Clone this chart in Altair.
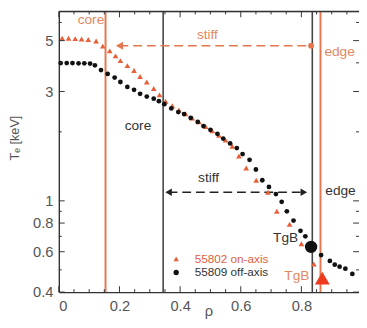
import altair as alt
import pandas as pd

W, H = 307, 287
FONT = "Liberation Sans"
ORANGE = "#e5764d"
ORANGE_TXT = "#e58862"
TRI = "#e8603a"
DARK = "#222222"
GREY = "#555555"

# ---- data ----
black_rho = [0.006, 0.026, 0.045, 0.065, 0.084, 0.103, 0.119, 0.139, 0.161, 0.184,
             0.203, 0.226, 0.248, 0.268, 0.290, 0.313, 0.330, 0.348, 0.371, 0.394,
             0.413, 0.435, 0.458, 0.477, 0.500, 0.523, 0.542, 0.565, 0.587, 0.606,
             0.629, 0.650, 0.671, 0.693, 0.716, 0.735, 0.752, 0.774, 0.797, 0.813,
             0.865, 0.894, 0.910, 0.926, 0.945, 0.968]
black_te = [3.99, 3.99, 3.99, 3.98, 3.98, 3.97, 3.90, 3.72, 3.58, 3.45,
            3.30, 3.14, 3.05, 2.93, 2.85, 2.79, 2.72, 2.64, 2.53, 2.44,
            2.39, 2.30, 2.21, 2.12, 2.04, 1.96, 1.87, 1.78, 1.70, 1.60,
            1.51, 1.37, 1.23, 1.15, 1.07, 0.99, 0.90, 0.82, 0.74, 0.70,
            0.58, 0.547, 0.527, 0.516, 0.506, 0.48]

orange_rho = [0.011, 0.032, 0.054, 0.075, 0.097, 0.123, 0.145, 0.168, 0.187, 0.203,
              0.226, 0.248, 0.268, 0.290, 0.313, 0.332, 0.352, 0.374, 0.396, 0.418,
              0.440, 0.462, 0.484, 0.506, 0.528, 0.550, 0.572, 0.594, 0.618, 0.651,
              0.690, 0.719, 0.761, 0.800, 0.841]
orange_te = [5.12, 5.12, 5.10, 5.08, 5.06, 4.98, 4.73, 4.51, 4.29, 4.09,
             3.89, 3.70, 3.49, 3.30, 3.09, 2.90, 2.72, 2.60, 2.49, 2.40,
             2.30, 2.21, 2.11, 2.02, 1.93, 1.84, 1.73, 1.57, 1.39, 1.23,
             1.09, 0.90, 0.79, 0.65, 0.53]

series_names = ["55802 on-axis", "55809 off-axis"]

orange_lines = [0.154, 0.863]
black_lines = [0.344, 0.836]

tgb_black = {"rho": [0.832], "te": [0.63]}
tgb_orange = {"rho": [0.869], "te": [0.46]}

orange_arrow = {"rho": [0.20], "rho2": [0.832], "te": [4.75]}
black_arrow = {"rho": [0.362], "rho2": [0.808], "te": [1.09]}

orange_text = ["core", "stiff", "edge", "TgB"]
orange_text_rho = [0.106, 0.49, 0.926, 0.785]
orange_text_te = [6.13, 5.30, 4.44, 0.47]
black_text = ["core", "stiff", "edge", "TgB"]
black_text_rho = [0.261, 0.494, 0.929, 0.748]
black_text_te = [2.12, 1.26, 1.10, 0.686]

x_major = [0, 0.2, 0.4, 0.6, 0.8]
x_minor = [0.05, 0.1, 0.15, 0.25, 0.3, 0.35, 0.45, 0.5, 0.55, 0.65, 0.7, 0.75, 0.85, 0.9, 0.95]
y_major = [0.4, 0.6, 0.8, 1, 3, 5]
y_minor = [0.5, 0.7, 0.9, 2, 4, 6]

# ---- scales & axes ----
xs = alt.Scale(domain=[0, 0.99], nice=False, zero=False)
ys = alt.Scale(type="log", domain=[0.4, 6.7], nice=False)

xaxis = alt.Axis(values=x_major, format="~g", ticks=False, grid=False,
                 domainColor="#333", domainWidth=1.4,
                 labelFontSize=15, labelColor=GREY, labelPadding=7, labelFont=FONT,
                 title="ρ", titleFont=FONT, titleFontSize=15, titleFontWeight="normal",
                 titleColor=GREY, titleX=153, titleY=24, titleBaseline="alphabetic",
                 titleAlign="center")
yaxis = alt.Axis(values=y_major, format="~g", ticks=False, grid=False,
                 domainColor="#333", domainWidth=1.4,
                 labelFontSize=15, labelColor=GREY, labelPadding=6, labelFont=FONT,
                 title="Tₑ [keV]", titleFont=FONT, titleFontSize=13,
                 titleFontWeight="normal", titleColor=GREY, titleAngle=270,
                 titleX=-45, titleY=129, titleAlign="center", titleBaseline="middle")


def X(f="rho"):
    return alt.X(f"{f}:Q", scale=xs, axis=xaxis)


def Y(f="te"):
    return alt.Y(f"{f}:Q", scale=ys, axis=yaxis)


df_black = pd.DataFrame({"rho": black_rho, "te": black_te, "series": series_names[1]})
df_orange = pd.DataFrame({"rho": orange_rho, "te": orange_te, "series": series_names[0]})

leg = alt.Legend(title=None, orient="none", legendX=114, legendY=247,
                 labelFontSize=12, labelFont=FONT, symbolSize=30, rowPadding=2,
                 labelOffset=13, padding=0,
                 labelColor={"expr": "datum.label == '55802 on-axis' ? '#e0603c' : '#333333'"})
cscale = alt.Scale(domain=series_names, range=[TRI, "#111111"])
sscale = alt.Scale(domain=series_names, range=["triangle-up", "circle"])

# vertical lines
vl_orange = alt.Chart(pd.DataFrame({"rho": orange_lines})).mark_rule(
    color=ORANGE, strokeWidth=2).encode(x=X())
vl_black = alt.Chart(pd.DataFrame({"rho": black_lines})).mark_rule(
    color="#444", strokeWidth=1.6).encode(x=X())

# dashed arrows
oa = pd.DataFrame(orange_arrow)
arr_o = alt.Chart(oa).mark_rule(color=ORANGE, strokeWidth=1.6, strokeDash=[9, 5]).encode(
    x=X(), x2="rho2:Q", y=Y())
arr_o_head = alt.Chart(oa).mark_point(shape="triangle-left", filled=True, size=70,
                                      color=ORANGE, opacity=1).encode(x=X(), y=Y())
arr_o_end = alt.Chart(oa).mark_point(shape="circle", filled=True, size=35,
                                     color=ORANGE, opacity=1).encode(x=X("rho2"), y=Y())
ba = pd.DataFrame(black_arrow)
arr_b = alt.Chart(ba).mark_rule(color=DARK, strokeWidth=1.6, strokeDash=[9, 5]).encode(
    x=X(), x2="rho2:Q", y=Y())
arr_b_l = alt.Chart(ba).mark_point(shape="triangle-left", filled=True, size=60,
                                   color=DARK, opacity=1).encode(x=X(), y=Y())
arr_b_r = alt.Chart(ba).mark_point(shape="triangle-right", filled=True, size=60,
                                   color=DARK, opacity=1).encode(x=X("rho2"), y=Y())

# profiles
pts_o = alt.Chart(df_orange).mark_point(filled=True, size=34, opacity=1).encode(
    x=X(), y=Y(),
    color=alt.Color("series:N", scale=cscale, legend=leg),
    shape=alt.Shape("series:N", scale=sscale, legend=leg))
pts_b = alt.Chart(df_black).mark_point(filled=True, size=24, opacity=1).encode(
    x=X(), y=Y(),
    color=alt.Color("series:N", scale=cscale, legend=leg),
    shape=alt.Shape("series:N", scale=sscale, legend=leg))

big_b = alt.Chart(pd.DataFrame(tgb_black)).mark_point(
    shape="circle", filled=True, size=160, color="#111", opacity=1).encode(x=X(), y=Y())
big_o = alt.Chart(pd.DataFrame(tgb_orange)).mark_point(
    shape="triangle-up", filled=True, size=230, color="#ee3a1f", opacity=1).encode(x=X(), y=Y())

# annotations
txt_o = alt.Chart(pd.DataFrame({"rho": orange_text_rho, "te": orange_text_te, "t": orange_text})
                  ).mark_text(font=FONT, fontSize=14, color=ORANGE_TXT).encode(
    x=X(), y=Y(), text="t:N")
txt_b = alt.Chart(pd.DataFrame({"rho": black_text_rho, "te": black_text_te, "t": black_text})
                  ).mark_text(font=FONT, fontSize=14, color="#333").encode(
    x=X(), y=Y(), text="t:N")

# frame and inward ticks
top_frame = alt.Chart(pd.DataFrame({"a": [0]})).mark_rule(color="#333", strokeWidth=1.4).encode(
    x=alt.value(0), x2=alt.value(W), y=alt.value(0))


def xticks(vals, length):
    d = pd.DataFrame({"rho": vals})
    b = alt.Chart(d).mark_rule(color="#333", strokeWidth=1).encode(
        x=X(), y=alt.value(H), y2=alt.value(H - length))
    t = alt.Chart(d).mark_rule(color="#333", strokeWidth=1).encode(
        x=X(), y=alt.value(0), y2=alt.value(length))
    return [b, t]


def yticks(vals, length):
    d = pd.DataFrame({"te": vals})
    l = alt.Chart(d).mark_rule(color="#333", strokeWidth=1).encode(
        y=Y(), x=alt.value(0), x2=alt.value(length))
    r = alt.Chart(d).mark_rule(color="#333", strokeWidth=1).encode(
        y=Y(), x=alt.value(W), x2=alt.value(W - length))
    return [l, r]


layers = [vl_orange, vl_black, arr_o, arr_o_head, arr_o_end, arr_b, arr_b_l, arr_b_r,
          pts_o, pts_b, big_b, big_o, txt_o, txt_b, top_frame]
layers += xticks(x_major, 6) + xticks(x_minor, 3) + yticks(y_major, 6) + yticks(y_minor, 3)

chart = alt.layer(*layers).properties(
    width=W, height=H,
    autosize=alt.AutoSizeParams(type="none"),
    padding={"left": 52, "top": 0, "right": 0, "bottom": 25},
).configure_view(stroke=None).configure(background="white")

chart.save("out.html", embed_options={"renderer": "svg", "actions": False})
